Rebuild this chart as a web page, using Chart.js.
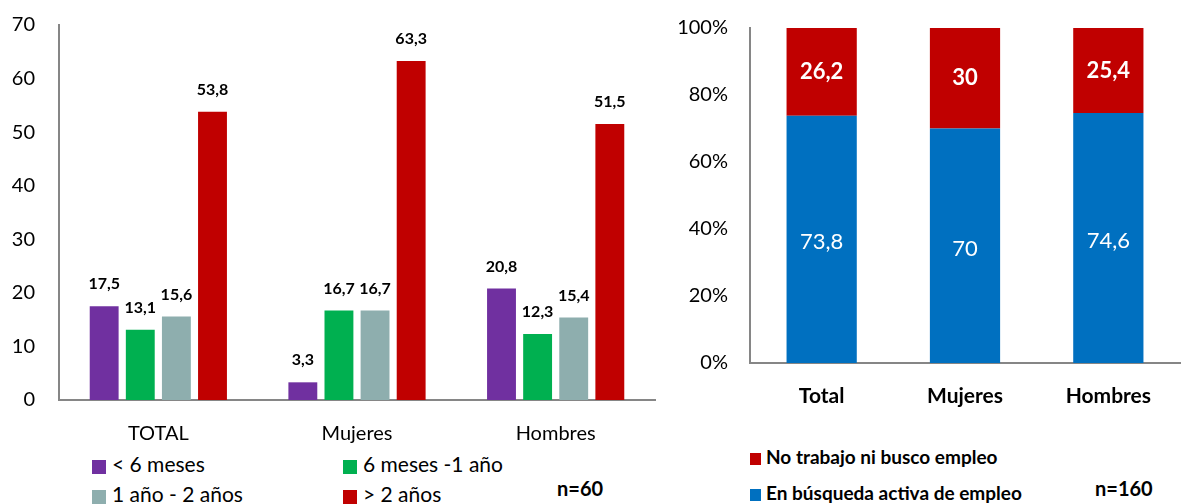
<!DOCTYPE html>
<html>
<head>
<meta charset="utf-8">
<script src="https://cdn.jsdelivr.net/npm/chart.js@4.4.0/dist/chart.umd.min.js"></script>
<style>
  body { margin:0; width:1189px; height:504px; background:#fff; position:relative; overflow:hidden; font-family:Lato, "Open Sans", sans-serif; color:#000; }
  .cv { position:absolute; top:0; }
  .leg { position:absolute; white-space:nowrap; line-height:1; }
  .sq { display:inline-block; vertical-align:middle; margin-right:6px; }
  .big { font-size:21px; }
  .small { font-size:19px; font-weight:bold; }
  .n { position:absolute; font-weight:bold; font-size:20px; }
</style>
</head>
<body>
<div class="cv" style="left:0;width:665px;height:450px;"><canvas id="left"></canvas></div>
<div class="cv" style="left:665px;width:524px;height:420px;"><canvas id="right"></canvas></div>

<div class="leg big" style="left:92px;top:453px;"><span class="sq" style="width:14px;height:14px;background:#7030A0"></span>&lt; 6 meses</div>
<div class="leg big" style="left:343px;top:453px;"><span class="sq" style="width:14px;height:14px;background:#00B050"></span>6 meses -1 año</div>
<div class="leg big" style="left:92px;top:483px;"><span class="sq" style="width:14px;height:14px;background:#8EAEAE"></span>1 año - 2 años</div>
<div class="leg big" style="left:343px;top:483px;"><span class="sq" style="width:14px;height:14px;background:#C00000"></span>&gt; 2 años</div>
<div class="n" style="left:557px;top:476px;">n=60</div>

<div class="leg small" style="left:750px;top:447px;"><span class="sq" style="width:11px;height:12px;background:#C00000;margin-right:5px"></span>No trabajo ni busco empleo</div>
<div class="leg small" style="left:750px;top:483px;"><span class="sq" style="width:11px;height:12px;background:#0070C0;margin-right:5px"></span>En búsqueda activa de empleo</div>
<div class="n" style="left:1095px;top:476px;">n=160</div>

<script>
var fontFam = 'Lato, "Open Sans", sans-serif';

// left chart data
var groups = ['TOTAL', 'Mujeres', 'Hombres'];
var menos6 = [17.5, 3.3, 20.8];
var seisA1 = [13.1, 16.7, 12.3];
var unoA2 = [15.6, 16.7, 15.4];
var mas2 = [53.8, 63.3, 51.5];

// right chart data
var sexos = ['Total', 'Mujeres', 'Hombres'];
var busqueda = [73.8, 70, 74.6];
var noTrabajo = [26.2, 30, 25.4];

function fmt(v){ return String(v).replace('.', ','); }

// draws the value labels (no datalabels plugin available)
var valueLabels = {
    id: 'valueLabels',
    afterDatasetsDraw: function(chart, args, opts){
        var ctx = chart.ctx;
        chart.data.datasets.forEach(function(ds, i){
            var meta = chart.getDatasetMeta(i);
            meta.data.forEach(function(bar, j){
                var v = ds.data[j];
                ctx.save();
                ctx.textAlign = 'center';
                ctx.textBaseline = 'middle';
                if (opts.inside) {
                    ctx.fillStyle = '#fff';
                    ctx.font = (ds.labelBold ? 'bold ' : '') + '22px ' + fontFam;
                    ctx.fillText(fmt(v), bar.x, (bar.y + bar.base) / 2 + (ds.labelShift || 0));
                } else {
                    ctx.fillStyle = '#000';
                    ctx.font = 'bold 16px ' + fontFam;
                    ctx.fillText(fmt(v), bar.x, bar.y - 22);
                }
                ctx.restore();
            });
        });
    }
};

// fixed axis width, and no extra top/bottom room from the tick padding
function fixY(w){
    return function(s){ s.width = w; s.paddingTop = 0; s.paddingBottom = 0; };
}

new Chart(document.getElementById('left'), {
    type: 'bar',
    data: {
        labels: groups,
        datasets: [
            {label: '< 6 meses', data: menos6, backgroundColor: '#7030A0'},
            {label: '6 meses -1 año', data: seisA1, backgroundColor: '#00B050'},
            {label: '1 año - 2 años', data: unoA2, backgroundColor: '#8EAEAE'},
            {label: '> 2 años', data: mas2, backgroundColor: '#C00000'}
        ]
    },
    options: {
        responsive: true,
        maintainAspectRatio: false,
        animation: false,
        layout: {padding: {top: 25, right: 10, left: 0, bottom: 0}},
        datasets: {bar: {categoryPercentage: 0.727, barPercentage: 0.8}},
        plugins: {legend: {display: false}, tooltip: {enabled: false}, valueLabels: {inside: false}},
        scales: {
            x: {
                grid: {display: false},
                border: {display: true, color: '#868686', width: 2},
                ticks: {color: '#000', font: {family: fontFam, size: 20}, padding: 14},
                afterFit: function(s){ s.height = 50; }
            },
            y: {
                min: 0, max: 70,
                ticks: {stepSize: 10, color: '#000', font: {family: fontFam, size: 20}, padding: 24},
                grid: {display: false, drawTicks: false},
                border: {display: true, color: '#868686', width: 2},
                afterFit: fixY(59)
            }
        }
    },
    plugins: [valueLabels]
});

new Chart(document.getElementById('right'), {
    type: 'bar',
    data: {
        labels: sexos,
        datasets: [
            {label: 'En búsqueda activa de empleo', data: busqueda, backgroundColor: '#0070C0', labelShift: 3},
            {label: 'No trabajo ni busco empleo', data: noTrabajo, backgroundColor: '#C00000', labelBold: true}
        ]
    },
    options: {
        responsive: true,
        maintainAspectRatio: false,
        animation: false,
        layout: {padding: {top: 28, right: 9, left: 0, bottom: 0}},
        datasets: {bar: {categoryPercentage: 1, barPercentage: 0.49}},
        plugins: {legend: {display: false}, tooltip: {enabled: false}, valueLabels: {inside: true}},
        scales: {
            x: {
                stacked: true,
                grid: {display: false},
                border: {display: true, color: '#868686', width: 2},
                ticks: {color: '#000', font: {family: fontFam, size: 21, weight: 'bold'}, padding: 13},
                afterFit: function(s){ s.height = 57; }
            },
            y: {
                stacked: true,
                min: 0, max: 100,
                ticks: {stepSize: 20, color: '#000', font: {family: fontFam, size: 20}, padding: 22,
                        callback: function(v){ return v + '%'; }},
                grid: {display: false, drawTicks: false},
                border: {display: true, color: '#868686', width: 2},
                afterFit: fixY(85)
            }
        }
    },
    plugins: [valueLabels]
});
</script>
</body>
</html>
